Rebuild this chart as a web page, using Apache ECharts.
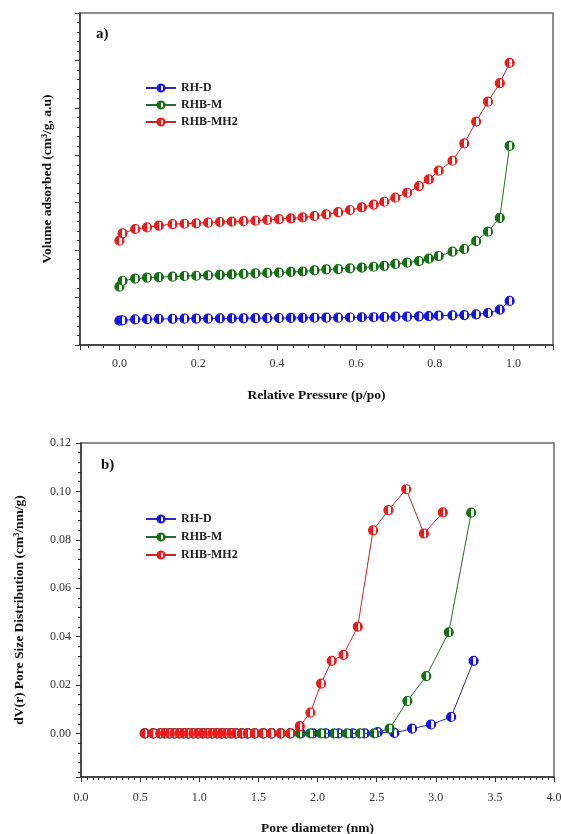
<!DOCTYPE html>
<html>
<head>
<meta charset="utf-8">
<script src="https://cdn.jsdelivr.net/npm/echarts@6/dist/echarts.min.js"></script>
<style>
html,body{margin:0;padding:0;background:#fff;}
#chart{width:561px;height:834px;}
</style>
</head>
<body>
<div id="chart"></div>
<script>
// ---- Panel a) : N2 isotherms ----
const seriesNames = ['RH-D', 'RHB-M', 'RHB-MH2'];
const pressure = [0.0, 0.008, 0.04, 0.07, 0.10, 0.135, 0.165, 0.195, 0.225, 0.255, 0.285, 0.315, 0.345, 0.375, 0.405, 0.435, 0.465, 0.495, 0.525, 0.555, 0.585, 0.615, 0.645, 0.672, 0.70, 0.73, 0.76, 0.785, 0.81, 0.845, 0.875, 0.905, 0.935, 0.965, 0.99];
const isoRHD = [0.512, 0.52, 0.54, 0.545, 0.55, 0.553, 0.555, 0.557, 0.558, 0.56, 0.562, 0.563, 0.565, 0.567, 0.569, 0.571, 0.573, 0.575, 0.576, 0.576, 0.58, 0.585, 0.585, 0.59, 0.597, 0.597, 0.604, 0.61, 0.618, 0.625, 0.632, 0.646, 0.675, 0.745, 0.93];
const isoRHBM = [1.23, 1.355, 1.40, 1.42, 1.43, 1.44, 1.455, 1.46, 1.47, 1.48, 1.49, 1.50, 1.51, 1.52, 1.525, 1.54, 1.55, 1.575, 1.595, 1.60, 1.617, 1.63, 1.65, 1.67, 1.71, 1.735, 1.77, 1.82, 1.876, 1.967, 2.024, 2.19, 2.39, 2.68, 4.2];
const isoRHBMH2 = [2.20, 2.355, 2.446, 2.48, 2.515, 2.55, 2.557, 2.565, 2.58, 2.593, 2.60, 2.61, 2.62, 2.64, 2.656, 2.67, 2.69, 2.72, 2.755, 2.80, 2.846, 2.90, 2.96, 3.02, 3.106, 3.21, 3.35, 3.49, 3.675, 3.885, 4.25, 4.71, 5.13, 5.52, 5.95];

// ---- Panel b) : pore size distribution ----
const poreRHD = [0.54, 0.61, 0.67, 0.71, 0.75, 0.79, 0.83, 0.87, 0.91, 0.95, 0.99, 1.03, 1.07, 1.11, 1.15, 1.19, 1.23, 1.27, 1.31, 1.36, 1.41, 1.47, 1.54, 1.61, 1.69, 1.77, 1.86, 1.96, 2.07, 2.18, 2.30, 2.40, 2.51, 2.65, 2.80, 2.96, 3.13, 3.32];
const psdRHD = [0, 0, 0, 0, 0, 0, 0, 0, 0, 0, 0, 0, 0, 0, 0, 0, 0, 0, 0, 0, 0, 0, 0, 0, 0, 0, 0, 0, 0, 0, 0, 0, 0.0005, 0.0002, 0.002, 0.0037, 0.0068, 0.030];
const poreRHBM = [0.54, 0.61, 0.67, 0.71, 0.75, 0.79, 0.83, 0.87, 0.91, 0.95, 0.99, 1.03, 1.07, 1.11, 1.15, 1.19, 1.23, 1.27, 1.31, 1.36, 1.41, 1.47, 1.54, 1.61, 1.69, 1.77, 1.85, 1.94, 2.03, 2.14, 2.25, 2.36, 2.48, 2.61, 2.76, 2.92, 3.11, 3.30];
const psdRHBM = [0, 0, 0, 0, 0, 0, 0, 0, 0, 0, 0, 0, 0, 0, 0, 0, 0, 0, 0, 0, 0, 0, 0, 0, 0, 0, 0, 0, 0, 0, 0, 0, 0, 0.002, 0.0134, 0.0237, 0.0418, 0.0912];
const poreRHBMH2 = [0.54, 0.61, 0.67, 0.71, 0.75, 0.79, 0.83, 0.87, 0.91, 0.95, 0.99, 1.03, 1.07, 1.11, 1.15, 1.19, 1.23, 1.27, 1.31, 1.36, 1.41, 1.47, 1.54, 1.61, 1.69, 1.77, 1.85, 1.94, 2.03, 2.12, 2.22, 2.34, 2.47, 2.60, 2.75, 2.90, 3.06];
const psdRHBMH2 = [0, 0, 0, 0, 0, 0, 0, 0, 0, 0, 0, 0, 0, 0, 0, 0, 0, 0, 0, 0, 0, 0, 0, 0, 0, 0, 0.003, 0.0086, 0.0206, 0.030, 0.0325, 0.0441, 0.0839, 0.0923, 0.1009, 0.0826, 0.0913];

// tick labels
const xTicksA = ['0.0', '0.2', '0.4', '0.6', '0.8', '1.0'];
const yTicksB = ['0.00', '0.02', '0.04', '0.06', '0.08', '0.10', '0.12'];

const markerColors = ['#1414e6', '#127012', '#ee1a1a'];
const lineColors = ['#2a2ab8', '#2c6a2c', '#c02828'];

function zip(xs, ys) { return xs.map((x, i) => [x, ys[i]]); }
function halfFill(c) {
  return {
    type: 'linear', x: 0, y: 0, x2: 1, y2: 0,
    colorStops: [
      { offset: 0, color: c }, { offset: 0.48, color: c },
      { offset: 0.48, color: '#ffffff' }, { offset: 0.75, color: '#ffffff' },
      { offset: 0.75, color: c }, { offset: 1, color: c }
    ]
  };
}
const FONT = '"Liberation Serif", "Times New Roman", serif';

function mkSeries(name, idx, data, xi, yi) {
  return {
    name: name, type: 'line', xAxisIndex: xi, yAxisIndex: yi,
    data: data, symbol: 'circle', symbolSize: 9, showSymbol: true,
    lineStyle: { color: lineColors[idx], width: 1 },
    itemStyle: { color: halfFill(markerColors[idx]), borderColor: markerColors[idx], borderWidth: 1.2 },
    emphasis: { disabled: true }, animation: false, z: 2 + idx
  };
}

const axisLine = { show: true, onZero: false, lineStyle: { color: '#333', width: 1.5 } };

const chart = echarts.init(document.getElementById('chart'), null, { renderer: 'canvas' });
chart.setOption({
  backgroundColor: '#ffffff',
  animation: false,
  grid: [
    { left: 80, top: 13, width: 473, height: 332, show: true, borderColor: '#6a6a6a', borderWidth: 1.5, backgroundColor: 'transparent', containLabel: false, outerBoundsMode: 'none' },
    { left: 81, top: 443, width: 473, height: 334, show: true, borderColor: '#6a6a6a', borderWidth: 1.5, backgroundColor: 'transparent', containLabel: false, outerBoundsMode: 'none' }
  ],
  legend: [
    { orient: 'vertical', left: 140, top: 76, itemWidth: 30, itemHeight: 9, itemGap: 3,
      data: seriesNames.map(n => ({ name: n })), selectedMode: false,
      textStyle: { fontFamily: FONT, fontWeight: 'bold', fontSize: 12, color: '#222', lineHeight: 14 } },
    { orient: 'vertical', left: 140, top: 507, itemWidth: 30, itemHeight: 9, itemGap: 4,
      data: seriesNames.map(n => ({ name: n })), selectedMode: false,
      textStyle: { fontFamily: FONT, fontWeight: 'bold', fontSize: 12, color: '#222', lineHeight: 14 } }
  ],
  graphic: [
    { type: 'text', left: 96, top: 27, style: { text: 'a)', font: 'bold 15px ' + FONT, fill: '#111' } },
    { type: 'text', left: 101, top: 458, style: { text: 'b)', font: 'bold 15px ' + FONT, fill: '#111' } }
  ],
  xAxis: [
    { type: 'value', gridIndex: 0, min: -0.1, max: 1.1, splitNumber: 6,
      name: 'Relative Pressure (p/po)', nameLocation: 'middle', nameGap: 44,
      nameTextStyle: { fontFamily: FONT, fontWeight: 'bold', fontSize: 13.5, color: '#111' },
      axisLine: axisLine,
      axisTick: { show: true, inside: false, length: 5, lineStyle: { color: '#333' } },
      minorTick: { show: true, splitNumber: 5, length: 3, lineStyle: { color: '#333' } },
      splitLine: { show: false },
      axisLabel: { margin: 13, fontFamily: FONT, fontSize: 12, color: '#333', showMinLabel: true, showMaxLabel: true,
        formatter: v => { const s = v.toFixed(1); return (v > -0.01 && v < 1.01 && xTicksA.indexOf(s) >= 0) ? s : ''; } } },
    { type: 'value', gridIndex: 1, min: 0, max: 4, interval: 0.5,
      name: 'Pore diameter (nm)', nameLocation: 'middle', nameGap: 45,
      nameTextStyle: { fontFamily: FONT, fontWeight: 'bold', fontSize: 13.5, color: '#111' },
      axisLine: axisLine,
      axisTick: { show: true, inside: false, length: 5, lineStyle: { color: '#333' } },
      minorTick: { show: true, splitNumber: 10, length: 3, lineStyle: { color: '#333' } },
      splitLine: { show: false },
      axisLabel: { margin: 15, fontFamily: FONT, fontSize: 12, color: '#333', formatter: v => v.toFixed(1) } }
  ],
  yAxis: [
    { type: 'value', gridIndex: 0, min: 0, max: 7, interval: 1,
      name: 'Volume adsorbed (cm³/g, a.u)', nameLocation: 'middle', nameGap: 25, nameRotate: 90,
      nameTextStyle: { fontFamily: FONT, fontWeight: 'bold', fontSize: 13.5, color: '#111' },
      axisLine: axisLine,
      axisTick: { show: true, inside: false, length: 5, lineStyle: { color: '#333' } },
      minorTick: { show: true, splitNumber: 5, length: 3, lineStyle: { color: '#333' } },
      splitLine: { show: false },
      axisLabel: { show: false } },
    { type: 'value', gridIndex: 1, min: -0.018, max: 0.12, splitNumber: 7,
      name: 'dV(r) Pore Size Distribution (cm³/nm/g)', nameLocation: 'middle', nameGap: 54, nameRotate: 90,
      nameTextStyle: { fontFamily: FONT, fontWeight: 'bold', fontSize: 13.5, color: '#111' },
      axisLine: axisLine,
      axisTick: { show: true, inside: false, length: 5, lineStyle: { color: '#333' } },
      minorTick: { show: true, splitNumber: 5, length: 3, lineStyle: { color: '#333' } },
      splitLine: { show: false },
      axisLabel: { margin: 10, fontFamily: FONT, fontSize: 12, color: '#333',
        formatter: v => { const s = v.toFixed(2); return (v > -0.001 && yTicksB.indexOf(s) >= 0) ? s : ''; } } }
  ],
  series: [
    mkSeries(seriesNames[0], 0, zip(pressure, isoRHD), 0, 0),
    mkSeries(seriesNames[1], 1, zip(pressure, isoRHBM), 0, 0),
    mkSeries(seriesNames[2], 2, zip(pressure, isoRHBMH2), 0, 0),
    mkSeries(seriesNames[0], 0, zip(poreRHD, psdRHD), 1, 1),
    mkSeries(seriesNames[1], 1, zip(poreRHBM, psdRHBM), 1, 1),
    mkSeries(seriesNames[2], 2, zip(poreRHBMH2, psdRHBMH2), 1, 1)
  ]
});
</script>
</body>
</html>
